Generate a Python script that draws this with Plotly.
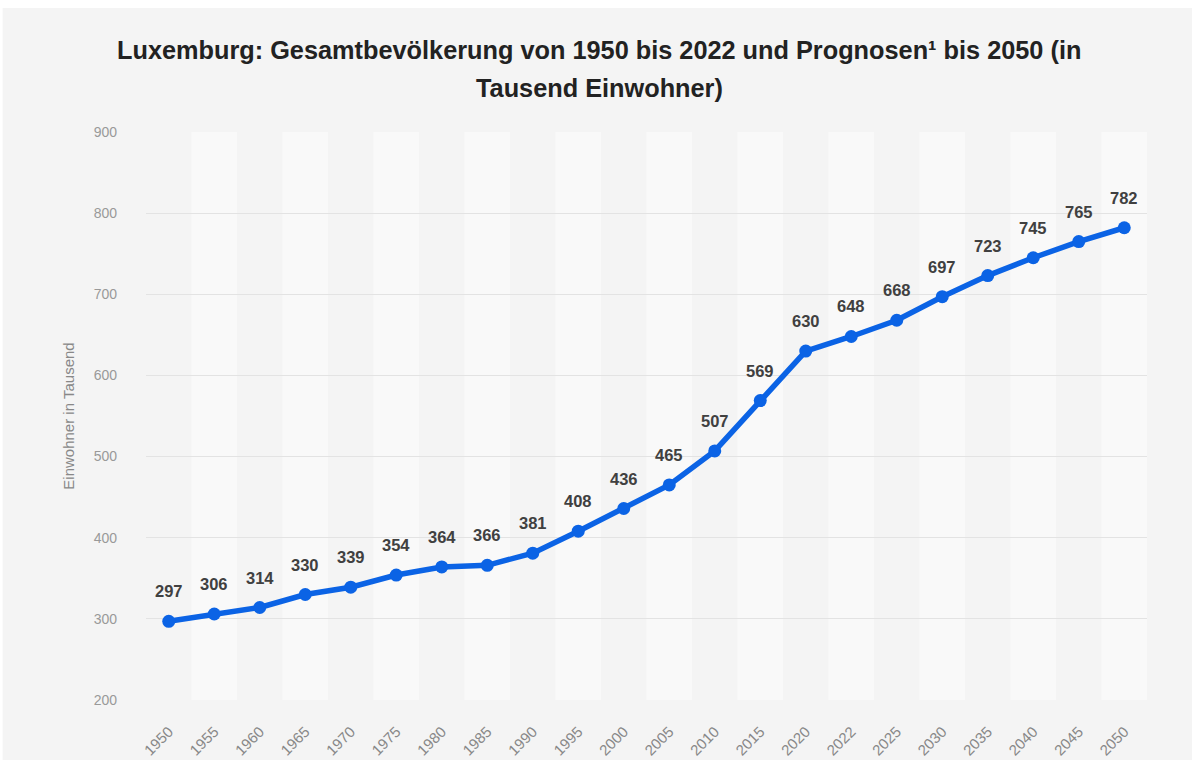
import plotly.graph_objects as go

# Population of Luxembourg (thousands), historical and projected
years = ["1950", "1955", "1960", "1965", "1970", "1975", "1980", "1985", "1990",
         "1995", "2000", "2005", "2010", "2015", "2020", "2022", "2025", "2030",
         "2035", "2040", "2045", "2050"]
population = [297, 306, 314, 330, 339, 354, 364, 366, 381, 408, 436, 465, 507,
              569, 630, 648, 668, 697, 723, 745, 765, 782]
y_ticks = [200, 300, 400, 500, 600, 700, 800, 900]

title_lines = ["Luxemburg: Gesamtbevölkerung von 1950 bis 2022 und Prognosen¹ bis 2050 (in",
               "Tausend Einwohner)"]

idx = list(range(len(years)))
BLUE = "#0b63e5"
BG = "#f4f4f4"
FONT = "Liberation Sans, Arial, sans-serif"

fig = go.Figure()

fig.add_trace(go.Scatter(
    x=idx, y=population, mode="lines+markers",
    line=dict(color=BLUE, width=5.5),
    marker=dict(color=BLUE, size=13),
    hoverinfo="skip", showlegend=False,
))

shapes = []
# page frame: white strip at top/left, grey card behind the chart
shapes.append(dict(type="rect", xref="paper", yref="paper",
                   x0=-0.1432, x1=1.05, y0=-0.11, y1=1.2183,
                   fillcolor=BG, line=dict(width=0), layer="below"))
# alternating column bands
for i in idx:
    if i % 2 == 1:
        shapes.append(dict(type="rect", xref="x", yref="y",
                           x0=i - 0.5, x1=i + 0.5, y0=200, y1=900,
                           fillcolor="#f9f9f9", line=dict(width=0), layer="below"))

annotations = []
# two-line title
for yy, line in zip([1.1444, 1.0775], title_lines):
    annotations.append(dict(x=0.453, y=yy, xref="paper", yref="paper", text=line,
                            showarrow=False, xanchor="center", yanchor="middle",
                            font=dict(family=FONT, size=25.3, color="#222222",
                                      weight="bold")))
# value labels above each point
for i, v in zip(idx, population):
    annotations.append(dict(x=i, y=v, xref="x", yref="y", text=str(v),
                            showarrow=False, yshift=30,
                            font=dict(family=FONT, size=16.5,
                                      color="#404040", weight="bold")))

fig.update_layout(
    width=1192, height=760,
    margin=dict(l=146, r=45, t=132, b=60, autoexpand=False),
    paper_bgcolor="#ffffff",
    plot_bgcolor="rgba(0,0,0,0)",
    xaxis=dict(
        range=[-0.5, len(years) - 0.5], automargin=False,
        tickmode="array", tickvals=idx, ticktext=years,
        tickangle=-45, showgrid=False, zeroline=False, showline=False,
        ticks="", ticklabelstandoff=19,
        tickfont=dict(family=FONT, size=15, color="#888888"),
        fixedrange=True,
    ),
    yaxis=dict(
        range=[200, 900], tickmode="array", tickvals=y_ticks, automargin=False,
        showgrid=True, gridcolor="#e3e3e3", gridwidth=1, zeroline=False,
        showline=False, ticks="", ticklabelstandoff=28,
        tickfont=dict(family=FONT, size=14, color="#999999"),
        title=dict(text="Einwohner in Tausend", standoff=15,
                   font=dict(family=FONT, size=15, color="#888888")),
        fixedrange=True,
    ),
    shapes=shapes,
    annotations=annotations,
)

fig.write_html("out.html")
